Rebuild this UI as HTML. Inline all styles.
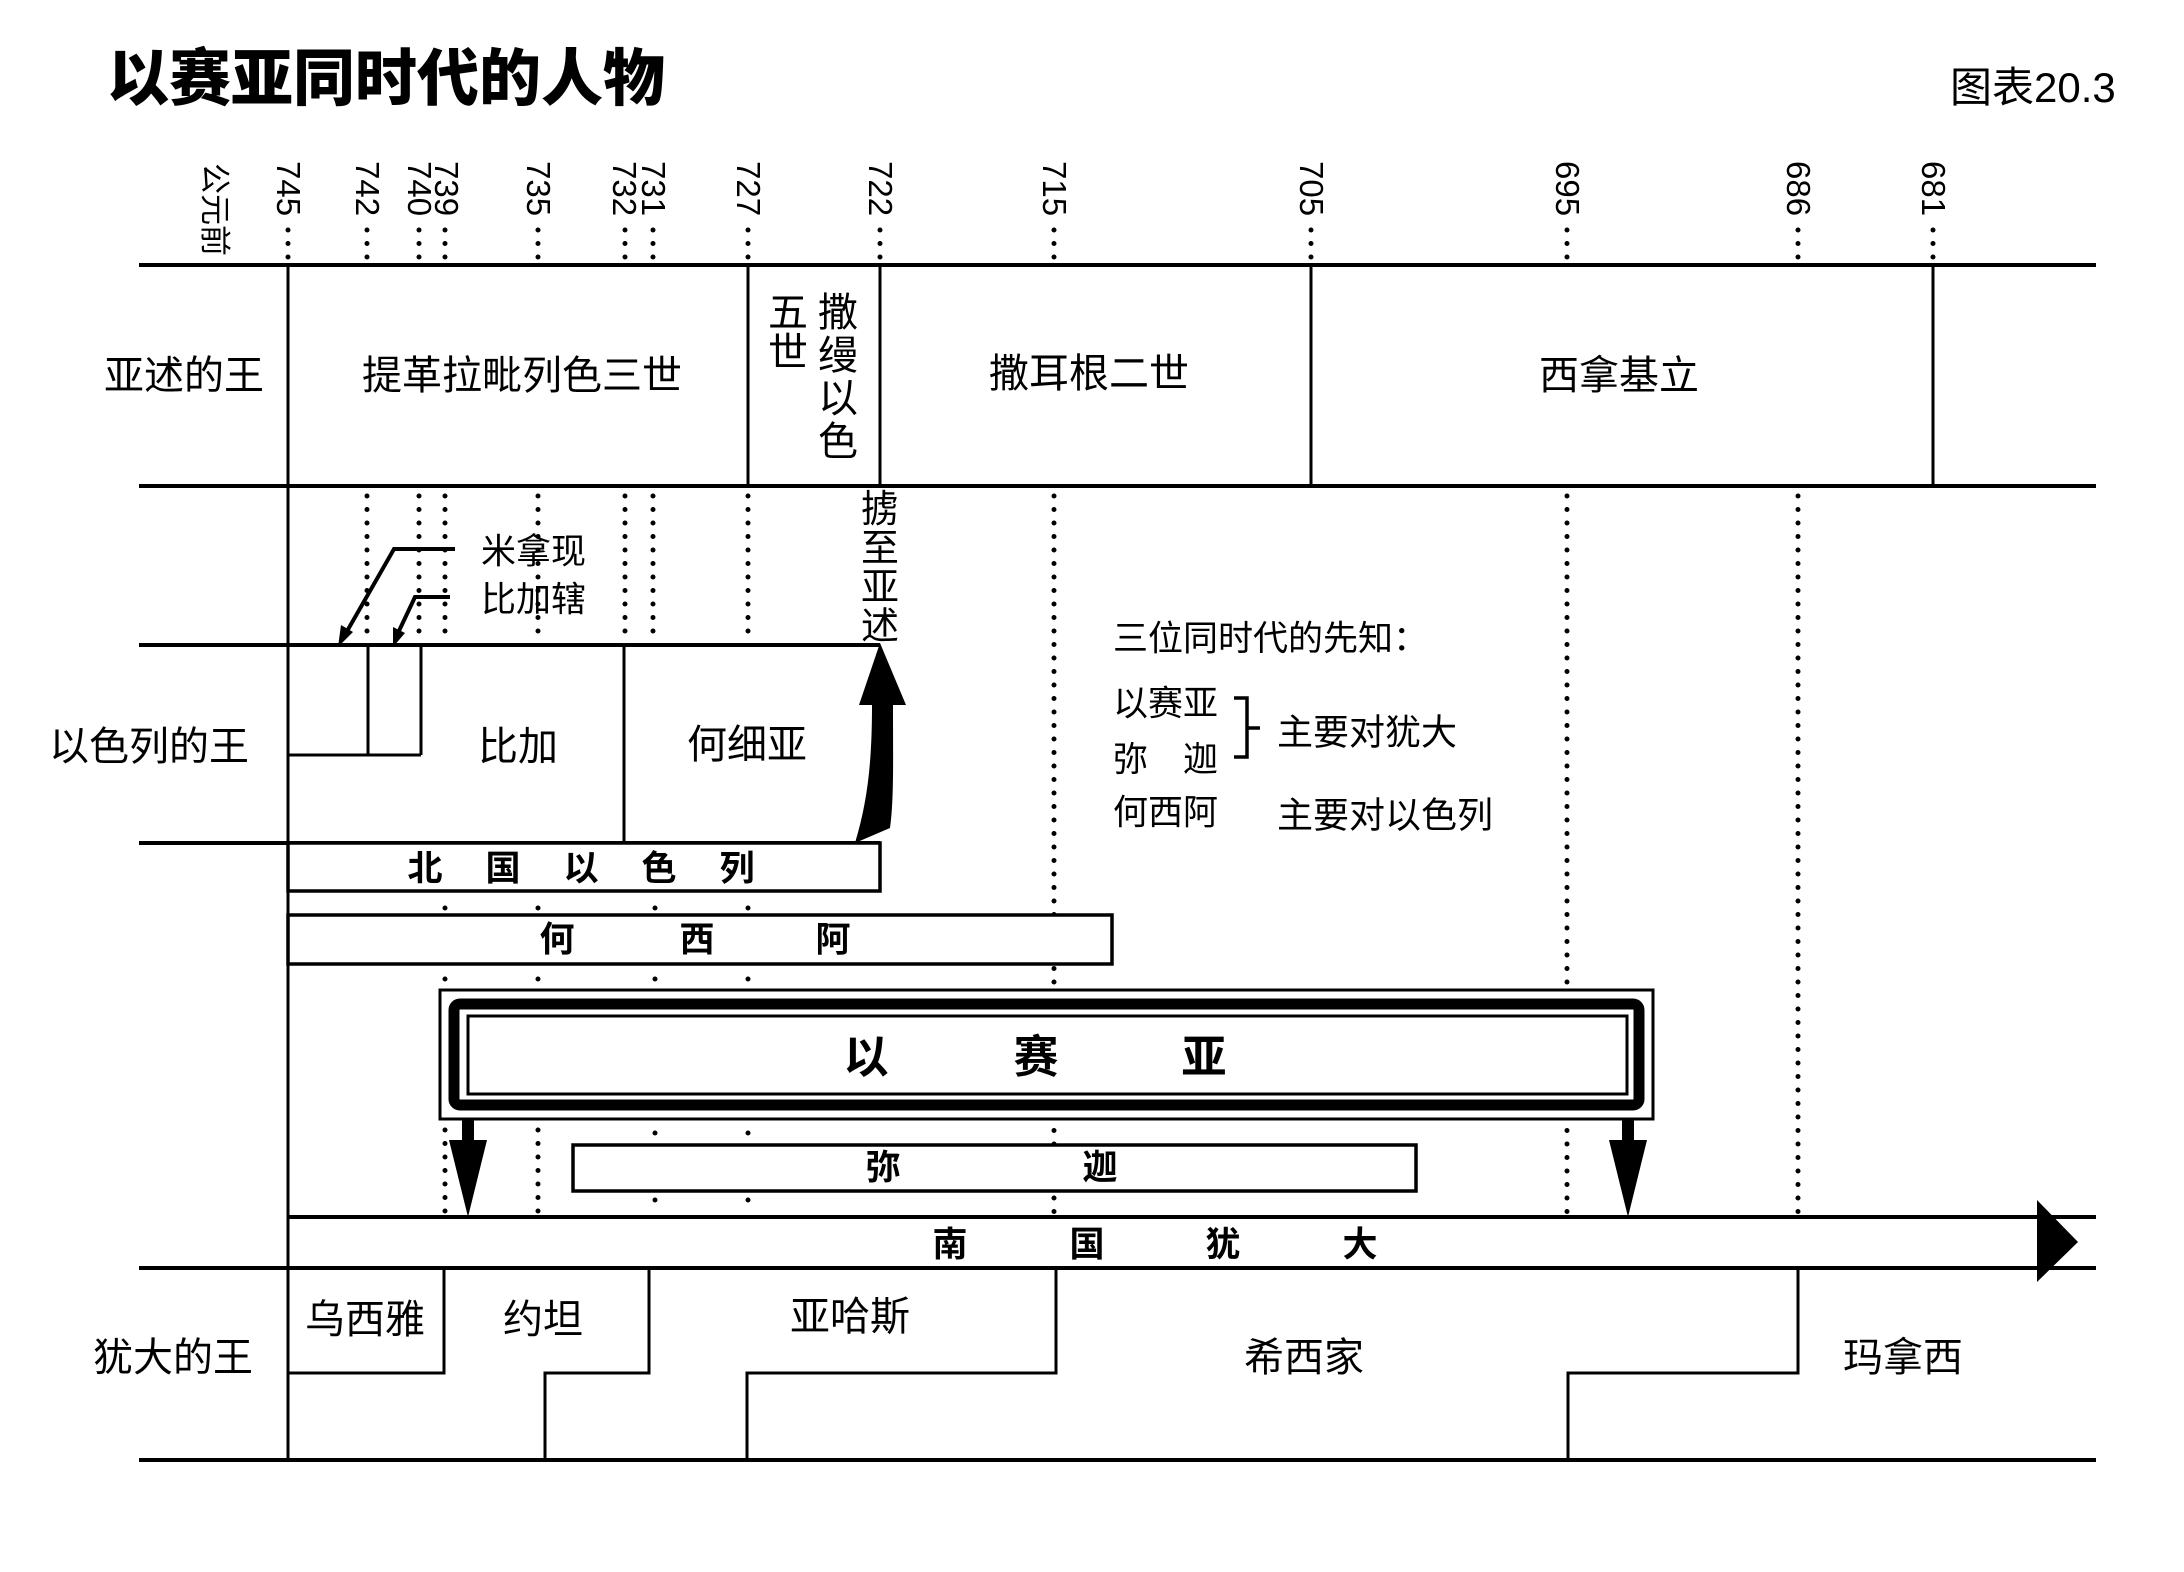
<!DOCTYPE html>
<html><head><meta charset="utf-8"><style>
html,body{margin:0;padding:0;background:#fff;}
svg{display:block;}
text{font-family:"Liberation Sans","Noto Sans CJK SC",sans-serif;fill:#000;}
.serif{font-family:"Liberation Serif","Noto Serif CJK SC",serif;}
</style></head><body>
<svg width="2184" height="1572" viewBox="0 0 2184 1572" xmlns="http://www.w3.org/2000/svg">
<rect width="2184" height="1572" fill="#fff"/>
<!-- title -->
<text x="107" y="100" font-size="62" font-weight="900">以赛亚同时代的人物</text>
<text x="1950" y="102" font-size="42">图表20.3</text>
<!-- year labels -->
<g font-size="33">
<text transform="translate(204,163) rotate(90)" font-size="31">公元前</text>
<text transform="translate(277,161) rotate(90)">745</text>
<text transform="translate(356,161) rotate(90)">742</text>
<text transform="translate(408,161) rotate(90)">740</text>
<text transform="translate(435,161) rotate(90)">739</text>
<text transform="translate(527,161) rotate(90)">735</text>
<text transform="translate(613,161) rotate(90)">732</text>
<text transform="translate(642,161) rotate(90)">731</text>
<text transform="translate(737,161) rotate(90)">727</text>
<text transform="translate(869,161) rotate(90)">722</text>
<text transform="translate(1043,161) rotate(90)">715</text>
<text transform="translate(1300,161) rotate(90)">705</text>
<text transform="translate(1556,161) rotate(90)">695</text>
<text transform="translate(1787,161) rotate(90)">686</text>
<text transform="translate(1922,161) rotate(90)">681</text>
</g>
<!-- dotted lines -->
<g stroke="#000" stroke-width="5" stroke-linecap="round" stroke-dasharray="0 13.5" fill="none">
<path d="M288 230V258 M367 230V258 M419 230V258 M445 230V258 M538 230V258 M625 230V258 M653 230V258 M748 230V258 M880 230V258 M1054 230V258 M1311 230V258 M1567 230V258 M1798 230V258 M1933 230V258"/>
<path d="M367 496V640 M419 496V640 M445 496V640 M538 496V640 M625 496V640 M653 496V640 M748 496V640"/>
<path d="M1054 496V1212 M1567 496V1212 M1798 496V1212"/>
<path d="M445 908V912 M538 908V912 M655 908V912 M748 908V912 M445 979V983 M538 979V983 M655 979V983 M748 979V983"/>
<path d="M445 1130V1212 M538 1130V1212 M655 1133V1137 M748 1133V1137 M655 1200V1204 M748 1200V1204"/>
</g>
<!-- main horizontal lines -->
<g stroke="#000" stroke-width="4" fill="none">
<path d="M139 265H2096 M139 486H2096 M139 645H880 M139 843H880 M139 1268H2096 M139 1460H2096 M288 1217H2096"/>
</g>
<g stroke="#000" stroke-width="3" fill="none">
<path d="M288 265V1460"/>
<path d="M748 265V486 M880 265V486 M1311 265V486 M1933 265V486"/>
<path d="M368 645V755 M421 645V755 M288 755H421 M624 645V843"/>
<path d="M444 1268V1373H288 M649 1268V1373H545V1460 M1056 1268V1373H747V1460 M1798 1268V1373H1568V1460"/>
</g>
<!-- Menahem/Pekahiah arrows -->
<g stroke="#000" stroke-width="4" fill="none">
<path d="M455 549H394L346 633"/>
<path d="M450 597H415L398 633"/>
</g>
<polygon points="338,647 341,625 353,632" fill="#000"/>
<polygon points="393,647 393,627 405,633" fill="#000"/>
<!-- captivity arrow -->
<path d="M880 643L906 705H893C893 760 894 800 890 828L855 843C868 800 872 760 872 705H859Z" fill="#000"/>
<!-- boxes -->
<rect x="288" y="843" width="592" height="48" fill="#fff" stroke="#000" stroke-width="3.5"/>
<rect x="288" y="915" width="824" height="49" fill="#fff" stroke="#000" stroke-width="3.5"/>
<rect x="440" y="990" width="1213" height="129" fill="#fff" stroke="#000" stroke-width="3"/>
<rect x="454" y="1004" width="1185" height="101" rx="6" fill="#fff" stroke="#000" stroke-width="11"/>
<rect x="468" y="1016" width="1159" height="78" fill="#fff" stroke="#000" stroke-width="3"/>
<rect x="573" y="1145" width="843" height="46" fill="#fff" stroke="#000" stroke-width="3.5"/>
<!-- down arrows -->
<path d="M462 1119H474V1140H487L468 1217L449 1140H462Z" fill="#000"/>
<path d="M1622 1119H1634V1140H1647L1628 1217L1609 1140H1622Z" fill="#000"/>
<!-- right arrow on band -->
<polygon points="2037,1200 2078,1242 2037,1282" fill="#000"/>
<!-- labels -->
<g font-size="40" dominant-baseline="central">
<text x="104" y="376">亚述的王</text>
<text x="522" y="376" text-anchor="middle">提革拉毗列色三世</text>
<text x="1089" y="374" text-anchor="middle">撒耳根二世</text>
<text x="1619" y="376" text-anchor="middle">西拿基立</text>
<text x="49" y="747">以色列的王</text>
<text x="518" y="747" text-anchor="middle">比加</text>
<text x="747" y="745" text-anchor="middle">何细亚</text>
<text x="93" y="1358">犹大的王</text>
<text x="365" y="1320" text-anchor="middle">乌西雅</text>
<text x="543" y="1320" text-anchor="middle">约坦</text>
<text x="850" y="1317" text-anchor="middle">亚哈斯</text>
<text x="1304" y="1358" text-anchor="middle">希西家</text>
<text x="1903" y="1358" text-anchor="middle">玛拿西</text>
</g>
<g font-size="40" text-anchor="middle" dominant-baseline="central">
<text x="788" y="313">五</text><text x="788" y="353">世</text>
<text x="838" y="313">撒</text><text x="838" y="356">缦</text><text x="838" y="399">以</text><text x="838" y="442">色</text>
</g>
<g font-size="38" text-anchor="middle" dominant-baseline="central">
<text x="880" y="510">掳</text><text x="880" y="549">至</text><text x="880" y="588">亚</text><text x="880" y="627">述</text>
</g>
<g font-size="35" dominant-baseline="central">
<text x="481" y="552">米拿现</text>
<text x="481" y="600">比加辖</text>
<text x="1113" y="639">三位同时代的先知：</text>
<text x="1113" y="704">以赛亚</text>
<text x="1113" y="760">弥</text><text x="1183" y="760">迦</text>
<text x="1113" y="813">何西阿</text>
</g>
<path d="M1234 698H1247V757H1234 M1247 728H1260" stroke="#000" stroke-width="3.5" fill="none"/>
<g class="serif" font-size="36" dominant-baseline="central">
<text x="1277" y="732">主要对犹大</text>
<text x="1277" y="815">主要对以色列</text>
</g>
<g font-size="35" font-weight="bold" text-anchor="middle" dominant-baseline="central">
<text x="425" y="869">北</text><text x="503" y="869">国</text><text x="581" y="869">以</text><text x="659" y="869">色</text><text x="737" y="869">列</text>
<text x="557" y="940">何</text><text x="697" y="940">西</text><text x="833" y="940">阿</text>
<text x="883" y="1168">弥</text><text x="1100" y="1168">迦</text>
<text x="950" y="1245">南</text><text x="1087" y="1245">国</text><text x="1223" y="1245">犹</text><text x="1360" y="1245">大</text>
</g>
<g font-size="45" font-weight="bold" text-anchor="middle" dominant-baseline="central">
<text x="866" y="1057">以</text><text x="1036" y="1057">赛</text><text x="1204" y="1057">亚</text>
</g>
</svg>
</body></html>
